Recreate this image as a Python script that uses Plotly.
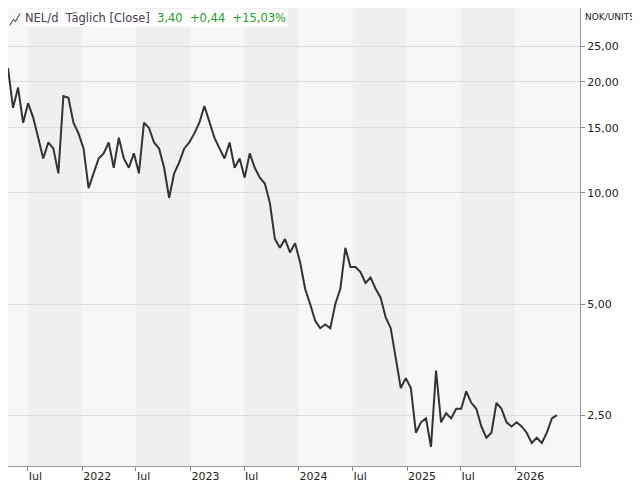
import numpy as np
import pandas as pd
import plotly.graph_objects as go

start_date = "2021-04-25"
step = "17D"
close = [21.8, 17.0, 19.3, 15.5, 17.5, 16.0, 14.1, 12.4, 13.7, 13.2, 11.3, 18.3, 18.1, 15.5,
         14.5, 13.2, 10.3, 11.3, 12.4, 12.8, 13.7, 11.7, 14.1, 12.4, 11.7, 12.8, 11.3, 15.5,
         15.0, 13.7, 13.2, 11.7, 9.7, 11.3, 12.1, 13.2, 13.7, 14.5, 15.5, 17.2, 15.5, 14.1,
         13.2, 12.4, 13.7, 11.7, 12.4, 11.0, 12.8, 11.7, 11.0, 10.6, 9.4, 7.5, 7.1, 7.5, 6.9,
         7.3, 6.5, 5.5, 5.0, 4.5, 4.3, 4.4, 4.3, 5.0, 5.5, 7.1, 6.3, 6.3, 6.1, 5.7, 5.9, 5.5,
         5.2, 4.6, 4.3, 3.6, 2.96, 3.15, 2.96, 2.24, 2.39, 2.45, 2.05, 3.3, 2.39, 2.53, 2.45,
         2.6, 2.6, 2.9, 2.7, 2.6, 2.33, 2.17, 2.24, 2.7, 2.6, 2.39, 2.33, 2.39, 2.33, 2.24,
         2.1, 2.17, 2.1, 2.24, 2.45, 2.5]
dates = pd.date_range(start_date, periods=len(close), freq=step)

tick_vals = [2.5, 5, 10, 15, 20, 25]
tick_text = ["2,50", "5,00", "10,00", "15,00", "20,00", "25,00"]
x_ticks = ["2021-07-01", "2022-01-01", "2022-07-01", "2023-01-01", "2023-07-01",
           "2024-01-01", "2024-07-01", "2025-01-01", "2025-07-01", "2026-01-01"]
x_labels = ["Jul", "2022", "Jul", "2023", "Jul", "2024", "Jul", "2025", "Jul", "2026"]

x0, x1 = "2021-04-25", "2026-08-08"

shapes = [dict(type="rect", xref="x", yref="paper", x0=x0, x1=x1, y0=0, y1=1,
               fillcolor="#f7f7f7", line_width=0, layer="below")]
for y in range(2021, 2026):
    shapes.append(dict(type="rect", xref="x", yref="paper", x0=f"{y}-07-01", x1=f"{y+1}-01-01",
                       y0=0, y1=1, fillcolor="#efefef", line_width=0, layer="below"))
# small line icon in header
shapes.append(dict(type="path", xref="paper", yref="paper",
                   path="M 0.003 0.962 L 0.010 0.976 L 0.013 0.970 L 0.021 0.988",
                   line=dict(color="#333", width=1)))

fig = go.Figure(go.Scatter(x=dates, y=close, mode="lines",
                           line=dict(color="#333333", width=2), hoverinfo="skip"))

fig.update_layout(
    width=640, height=480, margin=dict(l=0, r=68, t=0, b=22),
    paper_bgcolor="white", plot_bgcolor="#f7f7f7", showlegend=False,
    font=dict(family="DejaVu Sans", size=11, color="#222"),
    shapes=shapes,
    xaxis=dict(range=[x0, x1], tickvals=x_ticks, ticktext=x_labels, showgrid=False,
               ticks="outside", ticklen=4, tickcolor="#888", showline=True,
               linecolor="#999", mirror=False, ticklabelposition="outside right",
               ticklabelstandoff=0),
    yaxis=dict(type="log", side="right", range=[np.log10(1.82), np.log10(31.7)],
               tickvals=tick_vals, ticktext=tick_text, gridcolor="#dcdcdc",
               ticks="outside", ticklen=4, tickcolor="#888", showline=True,
               linecolor="#999", mirror=False, zeroline=False),
    annotations=[
        dict(xref="paper", yref="paper", x=0.026, y=0.997, xanchor="left", yanchor="top",
             showarrow=False, bgcolor="white",
             text="<span style='color:#4a3a55'>NEL/d  Täglich [Close]</span>  "
                  "<span style='color:#22a022'>3,40  +0,44  +15,03%</span>",
             font=dict(size=11.5)),
        dict(xref="paper", yref="paper", x=1.005, y=0.995, xanchor="left", yanchor="top",
             showarrow=False, text="NOK/UNITS", font=dict(size=9)),
    ],
)

fig.write_html("out.html")
